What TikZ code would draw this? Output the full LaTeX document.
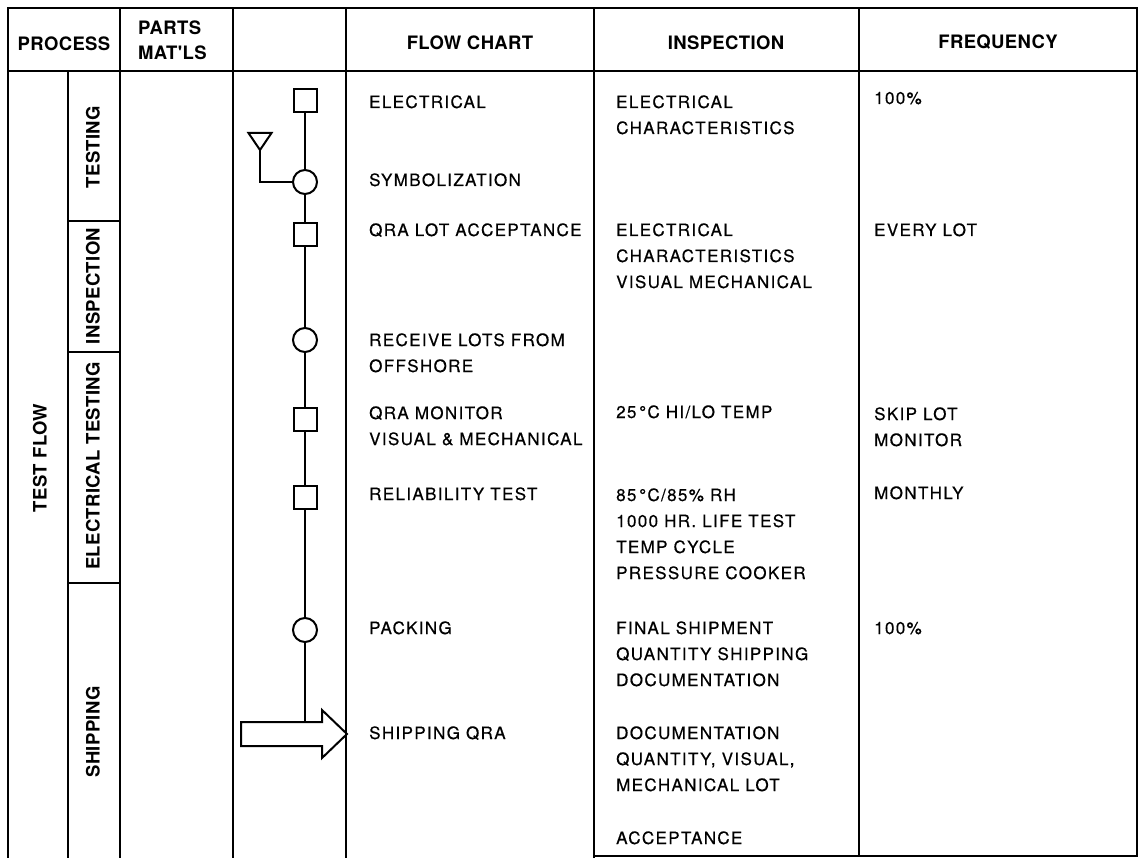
\documentclass[tikz,border=0pt]{standalone}
\usepackage{fontspec}
\setmainfont{TeX Gyre Heros}
\newfontfamily\bodyfont[LetterSpace=8,FakeBold=0.5]{TeX Gyre Heros}
\newfontfamily\headfont[LetterSpace=2]{TeX Gyre Heros}
\begin{document}
\begin{tikzpicture}[x=1pt,y=-1pt,
  grid/.style={line width=1.6pt},
  flow/.style={line width=2pt},
  body/.style={font=\bodyfont\fontsize{17}{26}\selectfont, anchor=base west, inner sep=0pt, align=left},
  head/.style={font=\headfont\bfseries\fontsize{18.5}{25}\selectfont, inner sep=0pt},
  headl/.style={head, anchor=base west, align=left},
  vlabel/.style={head, rotate=90, anchor=center},
  box/.style={draw, flow, rectangle, minimum size=23pt, inner sep=0pt, fill=white},
  disc/.style={draw, flow, circle, minimum size=24pt, inner sep=0pt, fill=white}]
\useasboundingbox (0,0) rectangle (1145,858);
\fill[white] (0,0) rectangle (1145,858);

% table grid
\draw[grid] (8,858) -- (8,8) -- (1137,8) -- (1137,856) -- (594,856);
\draw[grid] (8,71) -- (1137,71);
\draw[grid] (68,71) -- (68,858);
\draw[grid] (120,8) -- (120,858);
\draw[grid] (233,8) -- (233,858);
\draw[grid] (346,8) -- (346,858);
\draw[grid] (594,8) -- (594,858);
\draw[grid] (859,8) -- (859,856);
\draw[grid] (68,221) -- (120,221);
\draw[grid] (68,352) -- (120,352);
\draw[grid] (68,583) -- (120,583);

% headers (multi-line nodes: base = last line)
\node[head] (hproc) at (64,44) {PROCESS};
\node[headl] (hparts) at (138,60) {PARTS\\MAT'LS};
\node[head] (hflow) at (470,43) {FLOW CHART};
\node[head] (hinsp) at (726,43) {INSPECTION};
\node[head] (hfreq) at (998,42) {FREQUENCY};

% process labels
\node[vlabel] (ltest) at (93,147) {TESTING};
\node[vlabel] (linsp) at (93,286) {INSPECTION};
\node[vlabel] (lelec) at (93,466) {ELECTRICAL TESTING};
\node[vlabel] (lship) at (93,732) {SHIPPING};
\node[vlabel] (lflow) at (40,458) {TEST FLOW};

% flow symbols
\node[box] (sq1) at (305,101) {};
\node[disc] (c1) at (305,182) {};
\node[box] (sq2) at (305,235) {};
\node[disc] (c2) at (305,340) {};
\node[box] (sq3) at (305,419) {};
\node[box] (sq4) at (305,497) {};
\node[disc] (c3) at (305,630) {};
\draw[flow, line join=miter] (248.5,133) -- (271.5,133) -- (260,150) -- cycle;
\coordinate (tri) at (260,150);
\draw[flow, line join=miter] (241,722) -- (322,722) -- (322,710) -- (347,734) -- (322,758) -- (322,746) -- (241,746) -- cycle;
\coordinate (shaft) at (305,722);

\draw[flow] (sq1) -- (c1);
\draw[flow] (c1) -- (sq2);
\draw[flow] (sq2) -- (c2);
\draw[flow] (c2) -- (sq3);
\draw[flow] (sq3) -- (sq4);
\draw[flow] (sq4) -- (c3);
\draw[flow] (c3) -- (shaft);
\draw[flow] (tri) |- (c1);

% flow chart texts
\node[body] (f1) at (369,108) {ELECTRICAL};
\node[body] (f2) at (369,186) {SYMBOLIZATION};
\node[body] (f3) at (369,236) {QRA LOT ACCEPTANCE};
\node[body] (f4) at (369,372) {RECEIVE LOTS FROM\\OFFSHORE};
\node[body] (f5) at (369,445) {QRA MONITOR\\VISUAL \& MECHANICAL};
\node[body] (f6) at (369,500) {RELIABILITY TEST};
\node[body] (f7) at (369,634) {PACKING};
\node[body] (f8) at (369,739) {SHIPPING QRA};

% inspection texts
\node[body] (i1) at (616,134) {ELECTRICAL\\CHARACTERISTICS};
\node[body] (i2) at (616,288) {ELECTRICAL\\CHARACTERISTICS\\VISUAL MECHANICAL};
\node[body] (i3) at (616,418) {25\,°C HI/LO TEMP};
\node[body] (i4) at (616,579) {85\,°C/85\% RH\\1000 HR. LIFE TEST\\TEMP CYCLE\\PRESSURE COOKER};
\node[body] (i5) at (616,686) {FINAL SHIPMENT\\QUANTITY SHIPPING\\DOCUMENTATION};
\node[body] (i6) at (616,791) {DOCUMENTATION\\QUANTITY, VISUAL,\\MECHANICAL LOT};
\node[body] (i7) at (616,844) {ACCEPTANCE};

% frequency texts
\node[body] (q1) at (874,104) {100\%};
\node[body] (q2) at (874,236) {EVERY LOT};
\node[body] (q3) at (874,446) {SKIP LOT\\MONITOR};
\node[body] (q4) at (874,499) {MONTHLY};
\node[body] (q5) at (874,634) {100\%};
\end{tikzpicture}
\end{document}
